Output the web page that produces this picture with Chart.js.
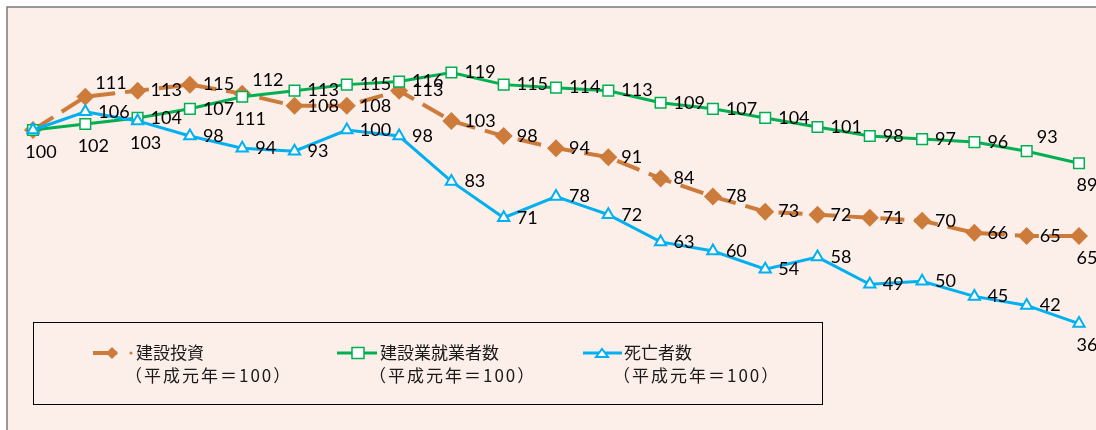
<!DOCTYPE html>
<html><head><meta charset="utf-8">
<script src="https://cdn.jsdelivr.net/npm/chart.js@4/dist/chart.umd.min.js"></script>
<style>html,body{margin:0;padding:0;background:#fff;}#wrap{position:relative;width:1096px;height:430px;}canvas{display:block;}</style>
</head><body><div id="wrap"><canvas id="c" width="1096" height="430"></canvas></div>
<script>
// ---- data ----
const categories = ['平成元年','平成2年','平成3年','平成4年','平成5年','平成6年','平成7年','平成8年','平成9年','平成10年','平成11年','平成12年','平成13年','平成14年','平成15年','平成16年','平成17年','平成18年','平成19年','平成20年','平成21年'];
const investment = [100,111,113,115,112,108,108,113,103,98,94,91,84,78,73,72,71,70,66,65,65];
const workers    = [100,102,104,107,111,113,115,116,119,115,114,113,109,107,104,101,98,97,96,93,89];
const deaths     = [100,106,103,98,94,93,100,98,83,71,78,72,63,60,54,58,49,50,45,42,36];
const seriesNames = ['建設投資','建設業就業者数','死亡者数'];
const seriesNote = '（平成元年＝100）';

// ---- label placement (style) ----
const investmentPos = [null,'ar','r','r','ar','r','r','r','r','r','r','r','r','r','r','r','r','r','r','r','b'];
const workersPos    = ['b','b','r','r','b','r','r','r','r','r','r','r','r','r','r','r','r','r','r','ar','b'];
const deathsPos     = [null,'r','b','r','r','r','r','r','r','r','r','r','r','r','r','r','r','r','r','r','b'];
const labelPositions = [investmentPos, workersPos, deathsPos];

const ORANGE = '#CD7B3A', GREEN = '#00B050', BLUE = '#00B0F0', BG = '#FCEEE9';

const bgPlugin = {
  id: 'bg',
  beforeDraw(chart) {
    const ctx = chart.ctx, w = chart.width, h = chart.height;
    ctx.save();
    ctx.fillStyle = '#fff'; ctx.fillRect(0, 0, w, h);
    ctx.fillStyle = BG; ctx.fillRect(7, 7, w - 7, h - 7);
    ctx.strokeStyle = '#7a7a7a'; ctx.lineWidth = 1.5;
    ctx.beginPath(); ctx.moveTo(7, h); ctx.lineTo(7, 7); ctx.lineTo(w, 7); ctx.stroke();
    ctx.restore();
  }
};

const labelPlugin = {
  id: 'vlabels',
  afterDatasetsDraw(chart) {
    const ctx = chart.ctx;
    ctx.save();
    ctx.font = '18px Lato';
    ctx.fillStyle = '#000';
    ctx.textBaseline = 'middle';
    chart.data.datasets.forEach((ds, di) => {
      const meta = chart.getDatasetMeta(di);
      const pos = labelPositions[di];
      meta.data.forEach((pt, i) => {
        const p = pos[i]; if (!p) return;
        let x = pt.x, y = pt.y;
        if (p === 'r') { ctx.textAlign = 'left'; x += 13; }
        else if (p === 'ar') { ctx.textAlign = 'left'; x += 10; y -= 14; }
        else { ctx.textAlign = 'center'; x += 8; y += 22; }
        ctx.fillText(String(ds.data[i]), x, y);
      });
    });
    ctx.restore();
  }
};

const legendPlugin = {
  id: 'customLegend',
  afterDraw(chart) {
    const ctx = chart.ctx;
    ctx.save();
    ctx.strokeStyle = '#000'; ctx.lineWidth = 1;
    ctx.strokeRect(33.5, 322.5, 789, 82);
    const items = [
      {x0: 93, x1: 117, mx: 112, tx: 137},
      {x0: 337, x1: 377, mx: 358, tx: 381},
      {x0: 583, x1: 622, mx: 602, tx: 625}
    ];
    const ly = 353;
    chart.data.datasets.forEach((ds, di) => {
      const it = items[di];
      ctx.strokeStyle = ds.borderColor; ctx.lineWidth = ds.borderWidth;
      ctx.setLineDash([]);
      ctx.beginPath(); ctx.moveTo(it.x0, ly); ctx.lineTo(it.x1, ly); ctx.stroke();
      if (di === 0) {
        ctx.fillStyle = ds.borderColor;
        ctx.beginPath(); ctx.moveTo(it.mx, ly - 6); ctx.lineTo(it.mx + 6, ly); ctx.lineTo(it.mx, ly + 6); ctx.lineTo(it.mx - 6, ly); ctx.closePath(); ctx.fill();
        ctx.beginPath(); ctx.arc(131, ly, 1.5, 0, Math.PI * 2); ctx.fill();
      } else if (di === 1) {
        ctx.fillStyle = '#fff'; ctx.lineWidth = 1.5;
        ctx.fillRect(it.mx - 6, ly - 5.5, 12, 11); ctx.strokeRect(it.mx - 6, ly - 5.5, 12, 11);
      } else {
        ctx.fillStyle = '#fff'; ctx.lineWidth = 2;
        ctx.beginPath(); ctx.moveTo(it.mx, ly - 4); ctx.lineTo(it.mx + 6, ly + 4); ctx.lineTo(it.mx - 6, ly + 4); ctx.closePath(); ctx.fill(); ctx.stroke();
      }
      ctx.fillStyle = '#1a1a1a';
      ctx.font = '17px "Noto Sans CJK JP"';
      ctx.textAlign = 'left'; ctx.textBaseline = 'middle';
      ctx.letterSpacing = '0px';
      ctx.fillText(ds.label, it.tx - 1, ly);
      ctx.letterSpacing = '2px';
      ctx.fillText(seriesNote, it.tx - 12, ly + 23);
      ctx.letterSpacing = '0px';
    });
    ctx.restore();
  }
};

new Chart(document.getElementById('c'), {
  type: 'line',
  data: {
    labels: categories,
    datasets: [
      { label: seriesNames[0], data: investment, borderColor: ORANGE, backgroundColor: ORANGE, borderWidth: 4, borderDash: [24, 10],
        pointStyle: 'rectRot', pointRadius: 9, pointBackgroundColor: ORANGE, pointBorderColor: ORANGE, pointBorderWidth: 0, tension: 0, clip: false, order: 3 },
      { label: seriesNames[1], data: workers, borderColor: GREEN, backgroundColor: '#fff', borderWidth: 3,
        pointStyle: 'rect', pointRadius: 7.5, pointBackgroundColor: '#fff', pointBorderColor: GREEN, pointBorderWidth: 1.5, tension: 0, clip: false, order: 2 },
      { label: seriesNames[2], data: deaths, borderColor: BLUE, backgroundColor: '#fff', borderWidth: 3,
        pointStyle: 'triangle', pointRadius: 6.5, pointBackgroundColor: '#fff', pointBorderColor: BLUE, pointBorderWidth: 2, tension: 0, clip: false, order: 1 }
    ]
  },
  options: {
    responsive: false, animation: false, devicePixelRatio: 1,
    layout: { padding: { left: 33, right: 17, top: 9, bottom: 58 } },
    scales: {
      x: { display: false, offset: false },
      y: { display: false, min: 20, max: 140 }
    },
    plugins: { legend: { display: false }, tooltip: { enabled: false } }
  },
  plugins: [bgPlugin, labelPlugin, legendPlugin]
});
</script></body></html>
